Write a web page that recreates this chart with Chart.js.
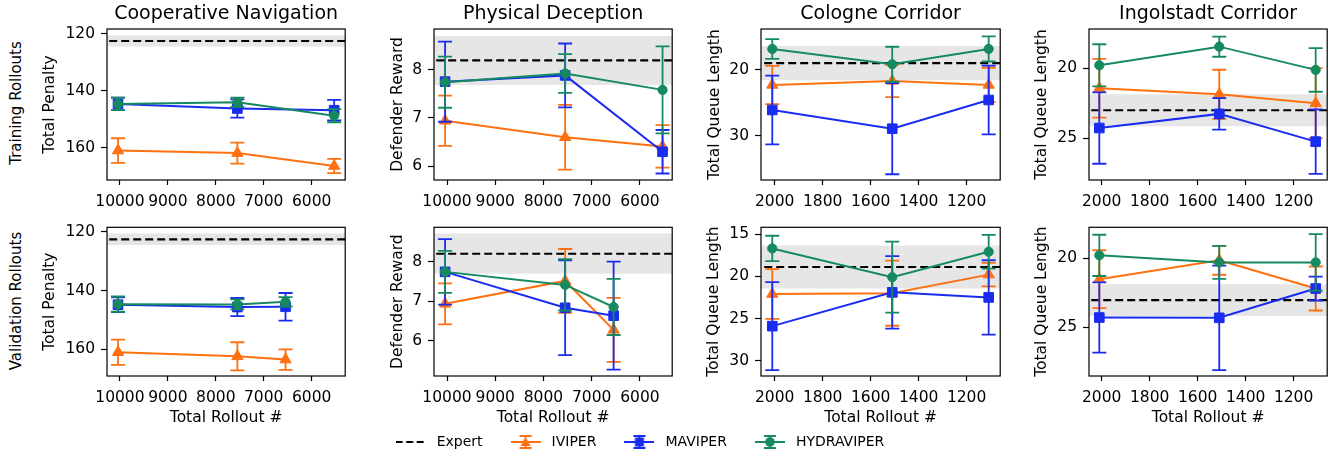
<!DOCTYPE html>
<html>
<head>
<meta charset="utf-8">
<script src="https://cdn.jsdelivr.net/npm/chart.js@4.4.1/dist/chart.umd.min.js"></script>
<style>
  body { margin: 0; background: #fff; width: 1343px; height: 455px; position: relative; overflow: hidden; font-family: 'DejaVu Sans', sans-serif; }
  canvas { position: absolute; }
  .rowlabel { position: absolute; font-size: 15px; color: #000; white-space: nowrap; transform: translate(-50%, -50%) rotate(-90deg); }
</style>
</head>
<body>
<div class="rowlabel" style="left:16px; top:103px">Training Rollouts</div>
<div class="rowlabel" style="left:16px; top:301px">Validation Rollouts</div>
<script>
// x positions (total rollouts) and tick labels
const navTrainSteps = [10040, 7550, 5530]
const navValSteps = [10040, 7550, 6545]
const corridorSteps = [2010, 1510, 1108]
const navXTicks = [10000, 9000, 8000, 7000, 6000]
const corridorXTicks = [2000, 1800, 1600, 1400, 1200]

// cooperative navigation
const navTrainIviper = [160.9, 161.8, 166.3]
const navTrainIviperErr = [4.3, 3.7, 2.5]
const navTrainMaviper = [144.6, 146.2, 146.8]
const navTrainMaviperErr = [2.2, 3.2, 3.6]
const navTrainHydra = [144.6, 144.0, 148.7]
const navTrainHydraErr = [2.2, 1.6, 2.3]
const navTrainExpert = [122.6, 1.9]

const navValIviper = [161.0, 162.4, 163.5]
const navValIviperErr = [4.3, 4.8, 3.5]
const navValMaviper = [144.8, 145.6, 145.5]
const navValMaviperErr = [2.5, 3.1, 4.7]
const navValHydra = [144.6, 144.7, 143.8]
const navValHydraErr = [2.6, 1.7, 1.6]
const navValExpert = [122.5, 1.95]

// physical deception
const decTrainIviper = [6.94, 6.60, 6.41]
const decTrainIviperErr = [0.52, 0.67, 0.44]
const decTrainMaviper = [7.75, 7.88, 6.30]
const decTrainMaviperErr = [0.83, 0.66, 0.45]
const decTrainHydra = [7.74, 7.92, 7.58]
const decTrainHydraErr = [0.53, 0.40, 0.90]
const decTrainExpert = [8.19, 0.51]

const decValIviper = [6.93, 7.51, 6.27]
const decValIviperErr = [0.52, 0.81, 0.81]
const decValMaviper = [7.74, 6.83, 6.63]
const decValMaviperErr = [0.83, 1.20, 1.37]
const decValHydra = [7.74, 7.41, 6.85]
const decValHydraErr = [0.53, 0.65, 0.71]
const decValExpert = [8.20, 0.51]

// cologne corridor
const colTrainIviper = [22.27, 21.67, 22.27]
const colTrainIviperErr = [2.9, 2.45, 2.6]
const colTrainMaviper = [26.06, 28.9, 24.55]
const colTrainMaviperErr = [5.2, 6.9, 5.2]
const colTrainHydra = [16.82, 19.14, 16.82]
const colTrainHydraErr = [1.5, 2.65, 1.9]
const colTrainExpert = [18.96, 2.6]

const colValIviper = [22.1, 22.0, 19.8]
const colValIviperErr = [2.95, 3.85, 1.4]
const colValMaviper = [25.9, 21.9, 22.5]
const colValMaviperErr = [5.2, 4.3, 4.4]
const colValHydra = [16.7, 20.1, 17.1]
const colValHydraErr = [1.5, 4.2, 2.0]
const colValExpert = [18.9, 2.55]

// ingolstadt corridor
const ingTrainIviper = [21.43, 21.86, 22.5]
const ingTrainIviperErr = [2.1, 1.75, 2.5]
const ingTrainMaviper = [24.27, 23.26, 25.24]
const ingTrainMaviperErr = [2.55, 1.13, 2.3]
const ingTrainHydra = [19.79, 18.46, 20.12]
const ingTrainHydraErr = [1.5, 0.72, 1.56]
const ingTrainExpert = [23.0, 1.15]

const ingValIviper = [21.51, 20.14, 22.19]
const ingValIviperErr = [2.1, 1.05, 1.6]
const ingValMaviper = [24.3, 24.32, 22.19]
const ingValMaviperErr = [2.55, 3.8, 0.87]
const ingValHydra = [19.78, 20.29, 20.29]
const ingValHydraErr = [1.5, 1.2, 2.05]
const ingValExpert = [23.03, 1.15]

const ORANGE = '#ff7010'
const BLUE = '#1a2cf0'
const GREEN = '#168a5f'
const FONT = "'DejaVu Sans', sans-serif"

Chart.defaults.font.family = FONT
Chart.defaults.color = '#000'
Chart.defaults.animation = false

// axes frame (all four spines)
const frame = {
    id: 'frame',
    afterDatasetsDraw(chart) {
        const { ctx, chartArea: a } = chart
        ctx.save()
        ctx.strokeStyle = '#000'
        ctx.lineWidth = 1.2
        ctx.strokeRect(a.left, a.top, a.right - a.left, a.bottom - a.top)
        ctx.restore()
    }
}

// vertical error bars with caps, drawn just under each series
const errorBars = {
    id: 'errorBars',
    beforeDatasetDraw(chart, args) {
        const ds = chart.data.datasets[args.index]
        if (!ds.errors) return
        const ys = chart.scales.y
        const ctx = chart.ctx
        ctx.save()
        ctx.strokeStyle = ds.borderColor
        ctx.lineWidth = 1.8
        args.meta.data.forEach((pt, i) => {
            const v = ds.data[i].y
            const top = ys.getPixelForValue(v + ds.errors[i])
            const bot = ys.getPixelForValue(v - ds.errors[i])
            ctx.beginPath()
            ctx.moveTo(pt.x, top); ctx.lineTo(pt.x, bot)
            ctx.moveTo(pt.x - 7, top); ctx.lineTo(pt.x + 7, top)
            ctx.moveTo(pt.x - 7, bot); ctx.lineTo(pt.x + 7, bot)
            ctx.stroke()
        })
        ctx.restore()
    }
}

const series = (label, steps, vals, errs, color, style, radius, order) => ({
    label,
    xAxisID: 'x',
    yAxisID: 'y',
    data: steps.map((x, i) => ({ x, y: vals[i] })),
    errors: errs,
    borderColor: color,
    backgroundColor: color,
    borderWidth: 2,
    pointStyle: style,
    pointRadius: radius,
    pointBorderWidth: 1,
    pointBackgroundColor: color,
    pointBorderColor: color,
    order,
})

const flat = (xr, y, extra) => Object.assign({
    xAxisID: 'x',
    yAxisID: 'y',
    data: [{ x: xr[0], y }, { x: xr[1], y }],
    pointRadius: 0,
    borderWidth: 0,
}, extra)

const panels = [
    { row: 0, L: 107, R: 349, T: 29, B: 180, yw: 66, title: 'Cooperative Navigation', ylab: 'Total Penalty',
      steps: navTrainSteps, xr: [5300, 10270], xt: navXTicks, yr: [118.4, 171.2], yt: [120, 140, 160], rev: true,
      s: [navTrainIviper, navTrainIviperErr, navTrainMaviper, navTrainMaviperErr, navTrainHydra, navTrainHydraErr], ex: navTrainExpert },
    { row: 0, L: 434, R: 676, T: 29, B: 180, yw: 45, title: 'Physical Deception', ylab: 'Defender Reward',
      steps: navTrainSteps, xr: [5330, 10270], xt: navXTicks, yr: [5.715, 8.84], yt: [6, 7, 8], rev: false,
      s: [decTrainIviper, decTrainIviperErr, decTrainMaviper, decTrainMaviperErr, decTrainHydra, decTrainHydraErr], ex: decTrainExpert },
    { row: 0, L: 761, R: 1004, T: 29, B: 180, yw: 55, title: 'Cologne Corridor', ylab: 'Total Queue Length',
      steps: corridorSteps, xr: [1060, 2057], xt: corridorXTicks, yr: [13.8, 36.67], yt: [20, 30], rev: true,
      s: [colTrainIviper, colTrainIviperErr, colTrainMaviper, colTrainMaviperErr, colTrainHydra, colTrainHydraErr], ex: colTrainExpert },
    { row: 0, L: 1089, R: 1331, T: 29, B: 180, yw: 56, title: 'Ingolstadt Corridor', ylab: 'Total Queue Length',
      steps: corridorSteps, xr: [1060, 2053], xt: corridorXTicks, yr: [17.2, 27.98], yt: [20, 25], rev: true,
      s: [ingTrainIviper, ingTrainIviperErr, ingTrainMaviper, ingTrainMaviperErr, ingTrainHydra, ingTrainHydraErr], ex: ingTrainExpert },
    { row: 1, L: 107, R: 349, T: 226, B: 376, yw: 66, ylab: 'Total Penalty',
      steps: navValSteps, xr: [5300, 10270], xt: navXTicks, yr: [118.4, 169.1], yt: [120, 140, 160], rev: true,
      s: [navValIviper, navValIviperErr, navValMaviper, navValMaviperErr, navValHydra, navValHydraErr], ex: navValExpert },
    { row: 1, L: 434, R: 676, T: 226, B: 376, yw: 45, ylab: 'Defender Reward',
      steps: navValSteps, xr: [5330, 10270], xt: navXTicks, yr: [5.10, 8.87], yt: [6, 7, 8], rev: false,
      s: [decValIviper, decValIviperErr, decValMaviper, decValMaviperErr, decValHydra, decValHydraErr], ex: decValExpert },
    { row: 1, L: 761, R: 1004, T: 226, B: 376, yw: 56, ylab: 'Total Queue Length',
      steps: corridorSteps, xr: [1060, 2057], xt: corridorXTicks, yr: [14.2, 31.8], yt: [15, 20, 25, 30], rev: true,
      s: [colValIviper, colValIviperErr, colValMaviper, colValMaviperErr, colValHydra, colValHydraErr], ex: colValExpert },
    { row: 1, L: 1089, R: 1331, T: 226, B: 376, yw: 56, ylab: 'Total Queue Length',
      steps: corridorSteps, xr: [1060, 2053], xt: corridorXTicks, yr: [17.74, 28.55], yt: [20, 25], rev: true,
      s: [ingValIviper, ingValIviperErr, ingValMaviper, ingValMaviperErr, ingValHydra, ingValHydraErr], ex: ingValExpert },
]

const drawPanel = (p) => {
    const padR = 4
    const hx = p.row === 0 ? 36 : 51
    const top = p.row === 0 ? 0 : p.T - 14
    let canvas = document.createElement('canvas')
    canvas.width = p.yw + (p.R - p.L) + padR
    canvas.height = p.B - top + hx
    canvas.style.left = (p.L - p.yw) + 'px'
    canvas.style.top = top + 'px'
    document.body.appendChild(canvas)

    const scales = {
        x: {
            type: 'linear',
            reverse: true,
            min: p.xr[0],
            max: p.xr[1],
            afterFit: (s) => { s.height = hx },
            afterBuildTicks: (s) => { s.ticks = p.xt.map(v => ({ value: v })) },
            grid: { drawOnChartArea: false, drawTicks: true, tickLength: 5, tickColor: '#000', tickWidth: 1.2 },
            border: { display: false },
            ticks: { autoSkip: false, maxRotation: 0, minRotation: 0, padding: 8, color: '#000',
                font: { size: 15.5 }, callback: v => String(v) },
            title: { display: p.row === 1, text: 'Total Rollout #', color: '#000',
                font: { size: 15.5, lineHeight: 1.2 }, padding: { top: 0, bottom: 0 } },
        },
        y: {
            type: 'linear',
            reverse: p.rev,
            min: p.yr[0],
            max: p.yr[1],
            afterFit: (s) => { s.width = p.yw },
            afterBuildTicks: (s) => { s.ticks = p.yt.map(v => ({ value: v })) },
            grid: { drawOnChartArea: false, drawTicks: true, tickLength: 6, tickColor: '#000', tickWidth: 1.2 },
            border: { display: false },
            ticks: { autoSkip: false, padding: 6, color: '#000', font: { size: 15.5 }, callback: v => String(v) },
            title: { display: true, text: p.ylab, color: '#000',
                font: { size: 15.5, lineHeight: 1.2 }, padding: { top: 0, bottom: 0 } },
        },
    }
    if (p.title) {
        // empty top axis that only carries the panel title, centred over the plot area
        scales.xTop = {
            type: 'linear',
            position: 'top',
            afterFit: (s) => { s.height = p.T },
            grid: { display: false },
            border: { display: false },
            ticks: { display: false },
            title: { display: true, text: p.title, color: '#000',
                font: { size: 19, lineHeight: 1.2 }, padding: { top: 3, bottom: 0 } },
        }
    }

    const [e, sd] = p.ex
    new Chart(canvas, {
        type: 'line',
        data: {
            datasets: [
                flat(p.xr, e + sd, { fill: '+1', backgroundColor: 'rgba(128,128,128,0.2)', order: 20 }),
                flat(p.xr, e - sd, { fill: false, order: 21 }),
                flat(p.xr, e, { borderColor: '#000', borderWidth: 2.2, borderDash: [8, 4], order: 10 }),
                series('IVIPER', p.steps, p.s[0], p.s[1], ORANGE, 'triangle', 6.5, 3),
                series('MAVIPER', p.steps, p.s[2], p.s[3], BLUE, 'rect', 6.8, 2),
                series('HYDRAVIPER', p.steps, p.s[4], p.s[5], GREEN, 'circle', 4.6, 1),
            ]
        },
        options: {
            responsive: false,
            animation: false,
            layout: { padding: { top: p.row === 0 ? 0 : 14, right: padR, left: 0, bottom: 0 } },
            plugins: {
                legend: { display: false },
                tooltip: { enabled: false },
            },
            scales,
        },
        plugins: [errorBars, frame],
    })
}

panels.forEach(drawPanel)

// legend icons: line + errorbar + marker, like the matplotlib handles
const legendIcon = (color, marker) => {
    let c = document.createElement('canvas')
    c.width = 30
    c.height = 16
    let g = c.getContext('2d')
    g.strokeStyle = color
    g.fillStyle = color
    if (!marker) {
        g.lineWidth = 2.2
        g.setLineDash([7, 3.5])
        g.beginPath(); g.moveTo(0, 8); g.lineTo(28, 8); g.stroke()
        return c
    }
    g.lineWidth = 2
    g.beginPath()
    g.moveTo(0, 8); g.lineTo(30, 8)
    g.moveTo(15, 2); g.lineTo(15, 14)
    g.moveTo(9, 2); g.lineTo(21, 2)
    g.moveTo(9, 14); g.lineTo(21, 14)
    g.stroke()
    g.beginPath()
    if (marker === 'triangle') { g.moveTo(15, 3); g.lineTo(20, 12); g.lineTo(10, 12); g.closePath() }
    else if (marker === 'rect') { g.rect(10.5, 3.5, 9, 9) }
    else { g.arc(15, 8, 4.8, 0, Math.PI * 2) }
    g.fill()
    return c
}

const legendNames = ['Expert', 'IVIPER', 'MAVIPER', 'HYDRAVIPER']
const legendIcons = [legendIcon('#000', null), legendIcon(ORANGE, 'triangle'), legendIcon(BLUE, 'rect'), legendIcon(GREEN, 'circle')]

let legendCanvas = document.createElement('canvas')
legendCanvas.width = 1276
legendCanvas.height = 90
legendCanvas.style.left = '0px'
legendCanvas.style.top = '411px'
document.body.appendChild(legendCanvas)

new Chart(legendCanvas, {
    type: 'line',
    data: { datasets: legendNames.map(n => ({ label: n, data: [] })) },
    options: {
        responsive: false,
        animation: false,
        scales: { x: { display: false }, y: { display: false } },
        plugins: {
            tooltip: { enabled: false },
            legend: {
                display: true,
                position: 'top',
                onClick: null,
                labels: {
                    usePointStyle: true,
                    pointStyleWidth: 38,
                    padding: 24,
                    color: '#000',
                    font: { size: 14 },
                    generateLabels: () => legendNames.map((n, i) => ({
                        text: n,
                        pointStyle: legendIcons[i],
                        fillStyle: '#000',
                        strokeStyle: '#000',
                        lineWidth: 0,
                        hidden: false,
                        datasetIndex: i,
                        fontColor: '#000',
                    })),
                },
            },
        },
    },
})
</script>
</body>
</html>
